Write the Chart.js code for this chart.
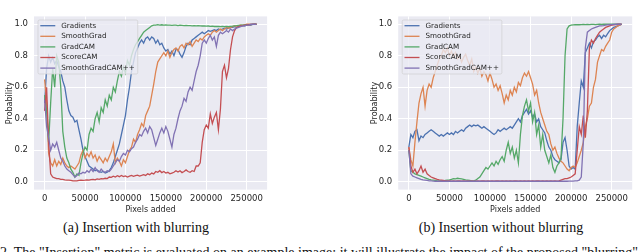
<!DOCTYPE html>
<html>
<head>
<meta charset="utf-8">
<script src="https://cdn.jsdelivr.net/npm/chart.js@4.4.0/dist/chart.umd.min.js"></script>
<style>
  html, body { margin: 0; padding: 0; background: #fff; width: 640px; height: 252px; overflow: hidden; }
  body { position: relative; }
  canvas { position: absolute; top: 0; }
  #chartA { left: 0; }
  #chartB { left: 320px; }
  .caption { position: absolute; top: 220px; font-family: "Liberation Serif", serif; font-size: 14px; line-height: 16px; color: #111; white-space: nowrap; transform: translateX(-50%); }
  .bottomline { position: absolute; left: 0; top: 245px; font-family: "Liberation Serif", serif; font-size: 14px; line-height: 16px; color: #111; white-space: nowrap; }
</style>
</head>
<body>
<canvas id="chartA" width="320" height="215"></canvas>
<canvas id="chartB" width="320" height="215"></canvas>
<div class="caption" style="left:136px">(a) Insertion with blurring</div>
<div class="caption" style="left:501px">(b) Insertion without blurring</div>
<div class="bottomline">2. The "Insertion" metric is evaluated on an example image; it will illustrate the impact of the proposed "blurring" step.</div>
<script>
// x values (pixels added), shared by all curves
const pixels = [0, 2500, 5000, 7500, 10000, 12500, 15000, 17500, 20000, 22500,
  25000, 27500, 30000, 32500, 35000, 37500, 40000, 42500, 45000, 47500,
  50000, 52500, 55000, 57500, 60000, 62500, 65000, 67500, 70000, 72500,
  75000, 77500, 80000, 82500, 85000, 87500, 90000, 92500, 95000, 97500,
  100000, 102500, 105000, 107500, 110000, 112500, 115000, 117500, 120000, 122500,
  125000, 127500, 130000, 132500, 135000, 137500, 140000, 142500, 145000, 147500,
  150000, 152500, 155000, 157500, 160000, 162500, 165000, 167500, 170000, 172500,
  175000, 177500, 180000, 182500, 185000, 187500, 190000, 192500, 195000, 197500,
  200000, 202500, 205000, 207500, 210000, 212500, 215000, 217500, 220000, 222500,
  225000, 227500, 230000, 232500, 235000, 237500, 240000, 242500, 245000, 247500,
  250000, 252500, 255000, 257500, 260000, 262144];

const xTicks = [0, 50000, 100000, 150000, 200000, 250000];
const yTicks = [0, 0.2, 0.4, 0.6, 0.8, 1.0];

const methods = ['Gradients', 'SmoothGrad', 'GradCAM', 'ScoreCAM', 'SmoothGradCAM++'];
const colors = ['#4C72B0', '#DD8452', '#55A868', '#C44E52', '#8172B3'];

// (a) insertion with blurring
const blurGradients = [0.5, 0.72, 0.8, 0.76, 0.79, 0.75, 0.77, 0.73, 0.7, 0.64,
  0.6, 0.52, 0.45, 0.42, 0.41, 0.38, 0.39, 0.33, 0.27, 0.2,
  0.16, 0.13, 0.1, 0.09, 0.08, 0.07, 0.075, 0.065, 0.06, 0.065,
  0.055, 0.06, 0.07, 0.09, 0.12, 0.16, 0.2, 0.24, 0.3, 0.36,
  0.42, 0.52, 0.6, 0.7, 0.76, 0.82, 0.85, 0.88, 0.9, 0.88,
  0.91, 0.92, 0.9, 0.92, 0.91, 0.88, 0.9, 0.87, 0.88, 0.85,
  0.83, 0.84, 0.81, 0.83, 0.8, 0.84, 0.84, 0.81, 0.79, 0.82,
  0.86, 0.88, 0.87, 0.9, 0.91, 0.92, 0.93, 0.94, 0.95, 0.94,
  0.95, 0.96, 0.955, 0.96, 0.965, 0.96, 0.97, 0.965, 0.97, 0.975,
  0.97, 0.975, 0.98, 0.98, 0.985, 0.98, 0.985, 0.99, 0.99, 0.99,
  0.995, 0.995, 0.995, 1.0, 1.0, 1.0];

const blurSmoothGrad = [0.65, 0.5, 0.18, 0.12, 0.1, 0.14, 0.1, 0.13, 0.11, 0.15,
  0.12, 0.1, 0.09, 0.1, 0.09, 0.08, 0.1, 0.12, 0.17, 0.2,
  0.15, 0.18, 0.16, 0.19, 0.15, 0.17, 0.13, 0.16, 0.14, 0.12,
  0.15, 0.13, 0.16, 0.19, 0.24, 0.12, 0.15, 0.13, 0.1, 0.14,
  0.12, 0.16, 0.2, 0.22, 0.27, 0.25, 0.3, 0.33, 0.37, 0.35,
  0.42, 0.45, 0.48, 0.55, 0.62, 0.7, 0.76, 0.78, 0.8, 0.82,
  0.8, 0.83, 0.79, 0.82, 0.84, 0.85, 0.83, 0.86, 0.87, 0.85,
  0.88, 0.87, 0.89, 0.86, 0.88, 0.9, 0.89, 0.91, 0.9, 0.92,
  0.93, 0.94, 0.93, 0.95, 0.96, 0.95, 0.96, 0.97, 0.96, 0.97,
  0.98, 0.975, 0.98, 0.985, 0.99, 0.99, 0.99, 0.995, 0.995, 0.995,
  1.0, 1.0, 1.0, 1.0, 1.0, 1.0];

const blurGradCAM = [0.55, 0.45, 0.25, 0.5, 0.72, 0.6, 0.8, 0.76, 0.6, 0.32,
  0.22, 0.15, 0.12, 0.08, 0.06, 0.03, 0.05, 0.04, 0.12, 0.18,
  0.22, 0.2, 0.3, 0.34, 0.32, 0.4, 0.44, 0.38, 0.47, 0.44,
  0.52, 0.48, 0.55, 0.52, 0.6, 0.57, 0.64, 0.7, 0.67, 0.73,
  0.69, 0.77, 0.74, 0.8, 0.84, 0.87, 0.89, 0.91, 0.93, 0.95,
  0.96, 0.97, 0.98, 0.99, 0.995, 0.995, 0.998, 0.995, 0.997, 0.995,
  0.996, 0.994, 0.995, 0.993, 0.995, 0.994, 0.992, 0.994, 0.993, 0.992,
  0.993, 0.991, 0.992, 0.99, 0.991, 0.99, 0.991, 0.99, 0.989, 0.99,
  0.988, 0.989, 0.987, 0.988, 0.986, 0.987, 0.986, 0.985, 0.986, 0.985,
  0.986, 0.985, 0.987, 0.988, 0.99, 0.991, 0.993, 0.994, 0.995, 0.996,
  0.997, 0.998, 0.998, 0.999, 1.0, 1.0];

const blurScoreCAM = [0.45, 0.6, 0.25, 0.05, 0.03, 0.025, 0.02, 0.02, 0.015, 0.015,
  0.012, 0.01, 0.01, 0.008, 0.005, 0.005, 0.006, 0.008, 0.01, 0.009,
  0.01, 0.012, 0.01, 0.013, 0.015, 0.012, 0.018, 0.015, 0.02, 0.018,
  0.022, 0.02, 0.03, 0.028, 0.035, 0.03, 0.038, 0.032, 0.04, 0.033,
  0.037, 0.03, 0.035, 0.04, 0.034, 0.038, 0.042, 0.036, 0.04, 0.045,
  0.04, 0.05, 0.045, 0.055, 0.05, 0.065, 0.06, 0.07, 0.058, 0.065,
  0.055, 0.06, 0.05, 0.055, 0.06, 0.07, 0.062, 0.07, 0.058, 0.065,
  0.075, 0.065, 0.06, 0.07, 0.065, 0.1, 0.1, 0.12, 0.25, 0.33,
  0.36, 0.34, 0.43, 0.37, 0.41, 0.44, 0.33, 0.46, 0.7, 0.74,
  0.66, 0.72, 0.84, 0.92, 0.96, 0.98, 0.985, 0.99, 0.992, 0.995,
  0.996, 0.997, 0.998, 0.999, 1.0, 1.0];

const blurSmoothGradCAMpp = [0.52, 0.35, 0.28, 0.2, 0.24, 0.22, 0.25, 0.2, 0.15, 0.13,
  0.1, 0.08, 0.07, 0.06, 0.045, 0.03, 0.04, 0.055, 0.05, 0.06,
  0.055, 0.07, 0.06, 0.08, 0.065, 0.09, 0.07, 0.06, 0.08, 0.065,
  0.06, 0.07, 0.065, 0.08, 0.1, 0.12, 0.14, 0.13, 0.16, 0.18,
  0.17, 0.2, 0.19, 0.21, 0.22, 0.25, 0.27, 0.3, 0.29, 0.32,
  0.34, 0.31, 0.35, 0.33, 0.28, 0.23, 0.27, 0.31, 0.34, 0.31,
  0.35, 0.32, 0.27, 0.22, 0.3, 0.34, 0.4, 0.45, 0.48, 0.53,
  0.51, 0.57, 0.6, 0.58, 0.64, 0.7, 0.74, 0.8, 0.88, 0.9,
  0.88, 0.91, 0.93, 0.9, 0.92, 0.86, 0.93, 0.95, 0.94, 0.95,
  0.96, 0.95, 0.97, 0.96, 0.97, 0.975, 0.98, 0.985, 0.99, 0.99,
  0.995, 0.995, 1.0, 1.0, 1.0, 1.0];

// (b) insertion without blurring
const plainGradients = [0.22, 0.3, 0.28, 0.32, 0.33, 0.26, 0.29, 0.28, 0.3, 0.31,
  0.32, 0.33, 0.32, 0.31, 0.3, 0.29, 0.3, 0.29, 0.3, 0.31,
  0.3, 0.31, 0.3, 0.32, 0.31, 0.32, 0.33, 0.32, 0.34, 0.35,
  0.36, 0.35, 0.36, 0.355, 0.36, 0.35, 0.34, 0.35, 0.34, 0.33,
  0.32, 0.31, 0.3, 0.31, 0.33, 0.32, 0.33, 0.34, 0.33, 0.34,
  0.35, 0.34, 0.36, 0.38, 0.4, 0.38, 0.42, 0.44, 0.46, 0.43,
  0.45, 0.41, 0.43, 0.38, 0.4, 0.35, 0.33, 0.31, 0.26, 0.22,
  0.2, 0.16, 0.14, 0.13, 0.12, 0.14, 0.25, 0.28, 0.2, 0.1,
  0.08, 0.09, 0.08, 0.35, 0.5, 0.64, 0.6, 0.82, 0.85, 0.88,
  0.85, 0.89, 0.9, 0.92, 0.93, 0.91, 0.93, 0.92, 0.94, 0.96,
  0.97, 0.98, 0.985, 0.99, 0.995, 1.0];

const plainSmoothGrad = [0.22, 0.14, 0.1, 0.25, 0.38, 0.5, 0.56, 0.6, 0.48, 0.58,
  0.62, 0.6, 0.66, 0.7, 0.74, 0.78, 0.8, 0.84, 0.82, 0.85,
  0.8, 0.83, 0.79, 0.82, 0.78, 0.8, 0.76, 0.79, 0.81, 0.77,
  0.74, 0.78, 0.7, 0.73, 0.69, 0.72, 0.67, 0.7, 0.68, 0.64,
  0.69, 0.65, 0.6, 0.62, 0.58, 0.61, 0.56, 0.5, 0.55, 0.52,
  0.58, 0.55, 0.6, 0.57, 0.63, 0.61, 0.66, 0.69, 0.67, 0.7,
  0.66, 0.62, 0.55, 0.58, 0.5, 0.44, 0.4, 0.36, 0.32, 0.3,
  0.24, 0.2, 0.22, 0.18, 0.15, 0.13, 0.12, 0.1, 0.08, 0.07,
  0.09, 0.1, 0.09, 0.12, 0.16, 0.2, 0.25, 0.35, 0.4, 0.48,
  0.5, 0.6, 0.65, 0.76, 0.8, 0.84, 0.83, 0.86, 0.88, 0.9,
  0.95, 0.97, 0.98, 0.99, 0.995, 1.0];

const plainGradCAM = [0.2, 0.07, 0.06, 0.05, 0.045, 0.04, 0.035, 0.03, 0.025, 0.02,
  0.015, 0.012, 0.01, 0.008, 0.006, 0.005, 0.005, 0.006, 0.008, 0.01,
  0.012, 0.015, 0.02, 0.018, 0.022, 0.02, 0.018, 0.015, 0.012, 0.01,
  0.008, 0.006, 0.005, 0.01, 0.02, 0.03, 0.05, 0.07, 0.09, 0.08,
  0.1, 0.12, 0.1, 0.13, 0.11, 0.14, 0.16, 0.13, 0.2, 0.25,
  0.18, 0.22, 0.15, 0.2, 0.12, 0.3, 0.42, 0.48, 0.52, 0.45,
  0.5, 0.38, 0.44, 0.3, 0.36, 0.22, 0.3, 0.2, 0.16, 0.12,
  0.17, 0.09, 0.06, 0.1, 0.12, 0.15, 0.4, 0.8, 0.97, 0.99,
  0.995, 0.996, 0.997, 0.998, 0.997, 0.998, 0.999, 0.998, 0.999, 0.998,
  0.999, 0.999, 0.998, 0.999, 1.0, 0.999, 1.0, 1.0, 1.0, 1.0,
  1.0, 1.0, 1.0, 1.0, 1.0, 1.0];

const plainScoreCAM = [0.22, 0.1, 0.06, 0.08, 0.05, 0.07, 0.1, 0.06, 0.08, 0.05,
  0.04, 0.03, 0.025, 0.02, 0.015, 0.012, 0.01, 0.008, 0.006, 0.005,
  0.005, 0.004, 0.005, 0.004, 0.005, 0.005, 0.004, 0.005, 0.004, 0.005,
  0.004, 0.005, 0.004, 0.004, 0.005, 0.004, 0.005, 0.005, 0.004, 0.005,
  0.004, 0.005, 0.004, 0.005, 0.005, 0.004, 0.005, 0.004, 0.005, 0.004,
  0.005, 0.004, 0.005, 0.005, 0.004, 0.005, 0.004, 0.005, 0.004, 0.005,
  0.004, 0.005, 0.004, 0.005, 0.005, 0.004, 0.005, 0.004, 0.005, 0.004,
  0.005, 0.004, 0.005, 0.004, 0.005, 0.01, 0.015, 0.02, 0.02, 0.025,
  0.03, 0.04, 0.05, 0.2, 0.35, 0.3, 0.42, 0.28, 0.45, 0.85,
  0.9, 0.88, 0.91, 0.93, 0.95, 0.96, 0.97, 0.98, 0.985, 0.99,
  0.995, 0.997, 0.998, 1.0, 1.0, 1.0];

const plainSmoothGradCAMpp = [0.2, 0.05, 0.035, 0.03, 0.025, 0.02, 0.015, 0.012, 0.01, 0.008,
  0.006, 0.005, 0.004, 0.003, 0.003, 0.003, 0.003, 0.003, 0.003, 0.003,
  0.003, 0.003, 0.003, 0.003, 0.003, 0.003, 0.003, 0.003, 0.003, 0.003,
  0.003, 0.003, 0.003, 0.003, 0.003, 0.003, 0.003, 0.003, 0.003, 0.003,
  0.003, 0.003, 0.003, 0.003, 0.003, 0.003, 0.003, 0.003, 0.003, 0.003,
  0.003, 0.003, 0.003, 0.003, 0.003, 0.003, 0.003, 0.003, 0.003, 0.003,
  0.003, 0.003, 0.003, 0.003, 0.003, 0.003, 0.003, 0.003, 0.003, 0.003,
  0.003, 0.003, 0.003, 0.003, 0.003, 0.003, 0.003, 0.003, 0.003, 0.004,
  0.004, 0.004, 0.005, 0.006, 0.01, 0.03, 0.25, 0.85, 0.95, 0.96,
  0.97, 0.975, 0.98, 0.985, 0.99, 0.99, 0.992, 0.995, 0.996, 0.997,
  0.998, 0.999, 1.0, 1.0, 1.0, 1.0];

const textColor = '#262626';
const tickFont = { family: 'DejaVu Sans', size: 8.5 };
const labelFont = { family: 'DejaVu Sans', size: 8 };

// seaborn style grey plot background
const plotBackground = {
  id: 'plotBackground',
  beforeDraw(chart) {
    const { ctx, chartArea: a } = chart;
    ctx.save();
    ctx.fillStyle = '#EAEAF2';
    ctx.fillRect(a.left, a.top, a.right - a.left, a.bottom - a.top);
    ctx.restore();
  }
};

// legend box drawn inside the upper-left corner of the plot
const insideLegend = {
  id: 'insideLegend',
  afterDraw(chart) {
    const { ctx, chartArea: a } = chart;
    const sets = chart.data.datasets;
    ctx.save();
    ctx.font = '7.2px "DejaVu Sans"';
    let tw = 0;
    sets.forEach(d => { tw = Math.max(tw, ctx.measureText(d.label).width); });
    const x = a.left + 4, y = a.top + 3.6;
    const w = 23.3 + tw + 3, h = 54;
    ctx.beginPath();
    ctx.roundRect(x, y, w, h, 1.5);
    ctx.fillStyle = 'rgba(234,234,242,0.8)';
    ctx.fill();
    ctx.strokeStyle = 'rgba(204,204,204,0.8)';
    ctx.lineWidth = 0.8;
    ctx.stroke();
    sets.forEach((d, i) => {
      const ry = y + 5.7 + i * 10.6;
      ctx.strokeStyle = d.borderColor;
      ctx.lineWidth = 1.3;
      ctx.beginPath();
      ctx.moveTo(x + 2.3, ry);
      ctx.lineTo(x + 17.3, ry);
      ctx.stroke();
      ctx.fillStyle = textColor;
      ctx.textBaseline = 'middle';
      ctx.textAlign = 'left';
      ctx.fillText(d.label, x + 23.3, ry);
    });
    ctx.restore();
  }
};

function makeChart(id, series, padLeft, padRight) {
  const datasets = series.map((s, i) => ({
    label: methods[i],
    data: pixels.map((p, j) => ({ x: p, y: s[j] })),
    borderColor: colors[i],
    borderWidth: 1.3,
    pointRadius: 0,
    tension: 0,
    fill: false,
    order: series.length - i
  }));

  return new Chart(document.getElementById(id), {
    type: 'line',
    data: { datasets: datasets },
    options: {
      responsive: false,
      animation: false,
      devicePixelRatio: 1,
      layout: { autoPadding: false, padding: { left: padLeft, right: padRight, top: 16.4, bottom: 0 } },
      plugins: { legend: { display: false }, tooltip: { enabled: false } },
      scales: {
        x: {
          type: 'linear',
          min: -13107,
          max: 275251,
          afterBuildTicks: s => { s.ticks = xTicks.map(v => ({ value: v })); },
          afterFit: s => { s.height = 25.4; },
          grid: { color: '#ffffff', lineWidth: 1, drawTicks: false },
          border: { display: false },
          ticks: { font: tickFont, color: textColor, padding: 4.5, maxRotation: 0, autoSkip: false, callback: v => String(v) },
          title: { display: true, text: 'Pixels added', font: labelFont, color: textColor, padding: { top: 2.5, bottom: 0 } }
        },
        y: {
          min: -0.05,
          max: 1.05,
          afterBuildTicks: s => { s.ticks = yTicks.map(v => ({ value: v })); },
          afterFit: s => { s.width = 34; },
          grid: { color: '#ffffff', lineWidth: 1, drawTicks: false },
          border: { display: false },
          ticks: { font: tickFont, color: textColor, padding: 6, callback: v => v.toFixed(1) },
          title: { display: true, text: 'Probability', font: labelFont, color: textColor, padding: { top: 5.5, bottom: 0 } }
        }
      }
    },
    plugins: [plotBackground, insideLegend]
  });
}

makeChart('chartA', [blurGradients, blurSmoothGrad, blurGradCAM, blurScoreCAM, blurSmoothGradCAMpp], 0, 52.9);
makeChart('chartB', [plainGradients, plainSmoothGrad, plainGradCAM, plainScoreCAM, plainSmoothGradCAMpp], 44.2, 7.8);
</script>
</body>
</html>
